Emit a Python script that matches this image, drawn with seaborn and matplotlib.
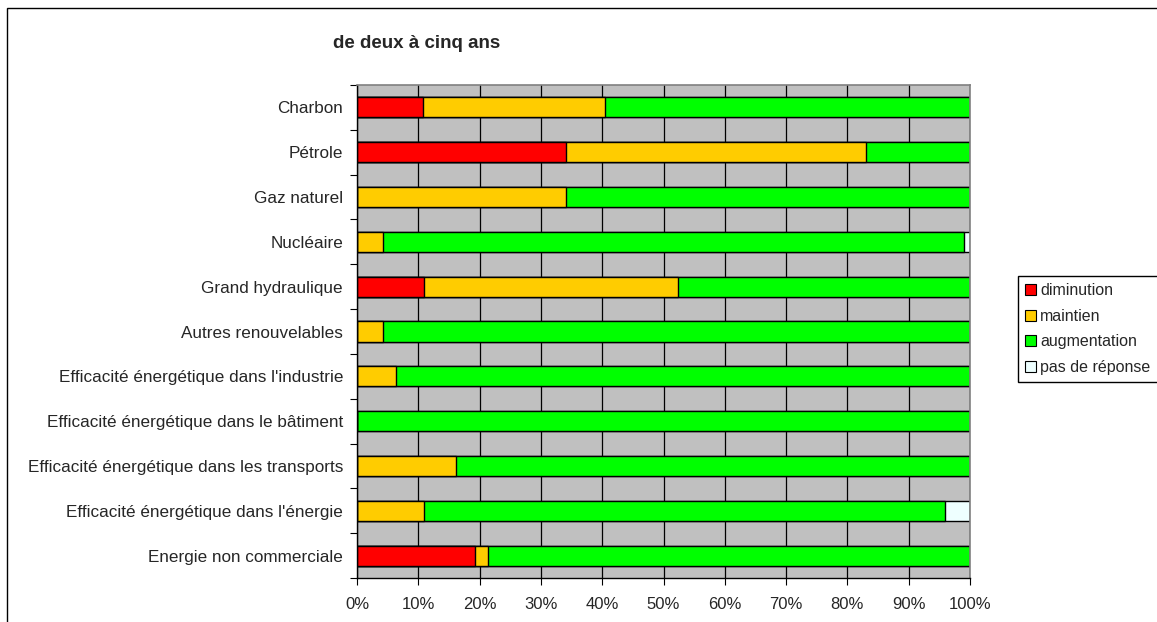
import numpy as np
import pandas as pd
import matplotlib
matplotlib.use('Agg')
import matplotlib.pyplot as plt
import seaborn as sns
from matplotlib.patches import Rectangle, Patch
from matplotlib.ticker import FixedLocator

categories = [
    'Charbon',
    'Pétrole',
    'Gaz naturel',
    'Nucléaire',
    'Grand hydraulique',
    'Autres renouvelables',
    "Efficacité énergétique dans l'industrie",
    'Efficacité énergétique dans le bâtiment',
    'Efficacité énergétique dans les transports',
    "Efficacité énergétique dans l'énergie",
    'Energie non commerciale',
]
diminution = [10.8, 34.1, 0, 0, 10.9, 0, 0, 0, 0, 0, 19.2]
maintien = [29.7, 48.9, 34.1, 4.2, 41.4, 4.2, 6.4, 0, 16.1, 10.9, 2.2]
augmentation = [59.5, 17.0, 65.9, 94.8, 47.7, 95.8, 93.6, 100, 83.9, 85.1, 78.6]
pas_de_reponse = [0, 0, 0, 1.0, 0, 0, 0, 0, 0, 4.0, 0]

series_names = ['diminution', 'maintien', 'augmentation', 'pas de réponse']
series_colors = ['#FF0000', '#FFCC00', '#00FF00', '#EEFFFF']

sns.set_theme(style='white')
plt.rcParams['font.family'] = ['Liberation Sans', 'DejaVu Sans']

df = pd.DataFrame({
    'categorie': categories,
    'diminution': diminution,
    'maintien': maintien,
    'augmentation': augmentation,
    'pas de réponse': pas_de_reponse,
})
cum = df[series_names].cumsum(axis=1)

fig = plt.figure(figsize=(11.57, 6.22), dpi=100)
ax = fig.add_axes([357 / 1157, 1 - 578 / 622, 613 / 1157, 493 / 622])
ax.set_facecolor('#C0C0C0')

# stacked bars: draw cumulative totals from the outermost segment inwards
for name, color in reversed(list(zip(series_names, series_colors))):
    sns.barplot(x=cum[name], y=df['categorie'], orient='h', color=color,
                edgecolor='black', linewidth=1.0, width=0.45, ax=ax,
                saturation=1)

ax.set_xlim(0, 100)
ax.set_ylim(len(categories) - 0.5, -0.5)
ax.set_xticks(np.arange(0, 101, 10))
ax.set_xticklabels([f'{v}%' for v in range(0, 101, 10)])
ax.set_yticks(range(len(categories)))
ax.set_yticklabels(categories)
ax.yaxis.set_minor_locator(FixedLocator(np.arange(-0.5, len(categories), 1)))
ax.tick_params(axis='y', which='major', length=0, pad=10, labelsize=12.3)
ax.tick_params(axis='y', which='minor', length=5, width=0.8, color='black', left=True)
ax.tick_params(axis='x', which='major', length=5, width=0.8, color='black',
               bottom=True, labelsize=12, pad=9)
ax.set_xlabel('')
ax.set_ylabel('')
ax.xaxis.grid(True, color='black', linewidth=0.9)
ax.set_axisbelow(True)
for side in ['left', 'bottom']:
    ax.spines[side].set_color('black')
    ax.spines[side].set_linewidth(1.0)
for side in ['top', 'right']:
    ax.spines[side].set_color('#808080')
    ax.spines[side].set_linewidth(1.2)

fig.text(333 / 1157, 1 - 48 / 622, 'de deux à cinq ans', fontsize=13.5,
         fontweight='bold', va='baseline', ha='left')

handles = [Patch(facecolor=c, edgecolor='black', linewidth=0.8) for c in series_colors]
fig.legend(handles, series_names, loc='upper left',
           bbox_to_anchor=(1018 / 1157, 1 - 276 / 622), fontsize=11.5,
           frameon=True, fancybox=False, edgecolor='black', framealpha=1,
           handlelength=0.7, handleheight=0.7, handletextpad=0.25,
           labelspacing=0.66, borderpad=0.45, borderaxespad=0)

fig.add_artist(Rectangle((7 / 1157, -0.1), 2, 1.1 - 8 / 622, fill=False,
                         edgecolor='black', linewidth=1.0,
                         transform=fig.transFigure))

fig.savefig('out.png', dpi=100, facecolor='white')
